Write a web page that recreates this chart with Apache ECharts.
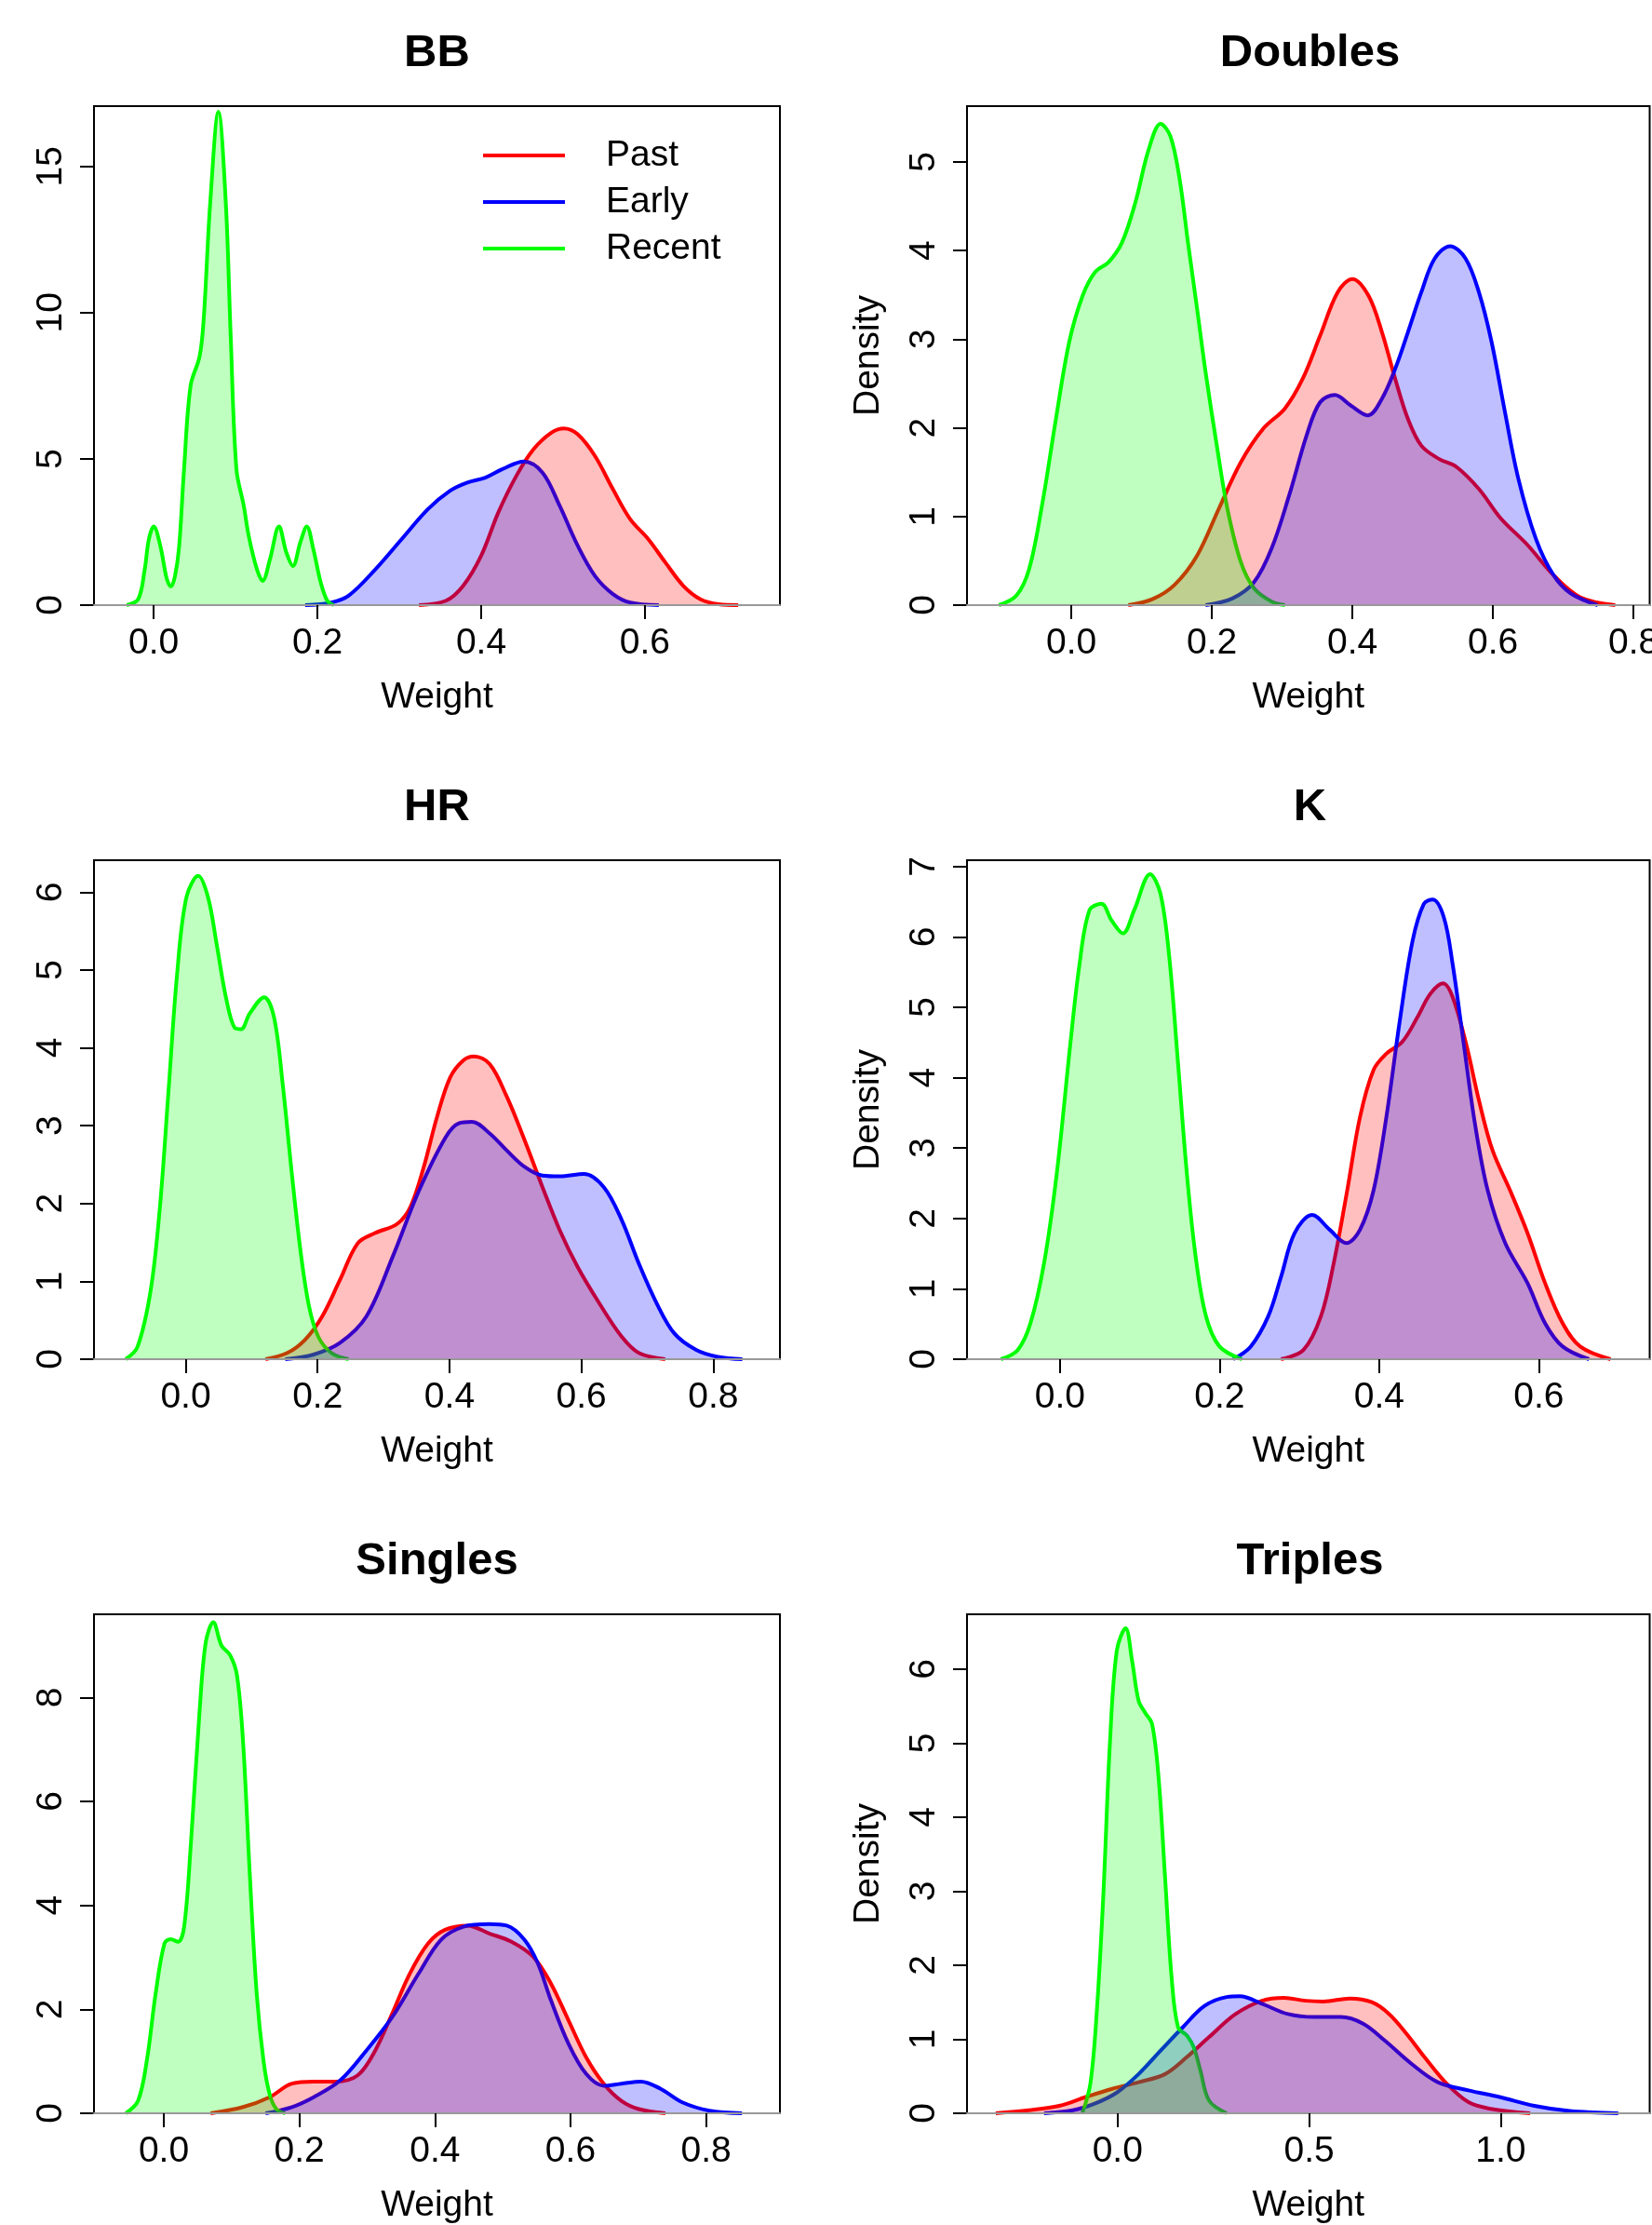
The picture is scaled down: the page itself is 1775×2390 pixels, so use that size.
<!DOCTYPE html>
<html>
<head>
<meta charset="utf-8">
<title>Weight densities</title>
<script src="https://cdn.jsdelivr.net/npm/echarts@6/dist/echarts.min.js"></script>
<style>
  html, body { margin: 0; padding: 0; background: #fff; }
  #main { width: 1775px; height: 2390px; }
</style>
</head>
<body>
<div id="main"></div>
<script>
const panelNames = ['BB', 'Doubles', 'HR', 'K', 'Singles', 'Triples'];
const seriesNames = ['Past', 'Early', 'Recent'];

// density curves, [weight, density]
const bbPast = [[0.324,0],[0.357,0.15],[0.378,0.66],[0.4,1.69],[0.421,3.17],[0.443,4.42],[0.464,5.33],[0.486,5.9],[0.501,6.04],[0.518,5.84],[0.539,5.1],[0.561,3.96],[0.582,2.94],[0.604,2.26],[0.625,1.46],[0.647,0.66],[0.668,0.2],[0.69,0.03],[0.714,0]];
const bbEarly = [[0.185,0],[0.217,0.09],[0.238,0.32],[0.271,1.23],[0.303,2.26],[0.335,3.28],[0.362,3.91],[0.383,4.19],[0.405,4.36],[0.426,4.65],[0.452,4.91],[0.475,4.53],[0.496,3.39],[0.518,2.03],[0.539,1.0],[0.561,0.38],[0.582,0.09],[0.617,0]];
const bbRecent = [[-0.033,0],[-0.019,0.2],[-0.011,1.23],[-0.006,2.25],[0.0,2.69],[0.008,2.03],[0.016,0.89],[0.021,0.64],[0.026,1.0],[0.031,2.0],[0.037,4.65],[0.045,7.5],[0.056,8.5],[0.061,9.77],[0.069,13.76],[0.079,16.87],[0.088,13.76],[0.094,9.2],[0.101,4.65],[0.11,3.39],[0.116,2.37],[0.126,1.23],[0.133,0.83],[0.142,1.57],[0.153,2.69],[0.162,1.8],[0.17,1.34],[0.179,2.14],[0.187,2.69],[0.195,1.91],[0.204,0.77],[0.212,0.15],[0.22,0]];

const doublesPast = [[0.081,0],[0.116,0.07],[0.147,0.23],[0.179,0.56],[0.21,1.09],[0.241,1.61],[0.273,1.99],[0.304,2.22],[0.329,2.55],[0.354,3.04],[0.379,3.53],[0.4,3.68],[0.423,3.49],[0.442,3.08],[0.461,2.55],[0.479,2.1],[0.498,1.8],[0.523,1.65],[0.548,1.56],[0.58,1.31],[0.611,0.98],[0.649,0.68],[0.686,0.34],[0.724,0.09],[0.774,0]];
const doublesEarly = [[0.191,0],[0.229,0.075],[0.26,0.26],[0.285,0.64],[0.31,1.24],[0.335,1.92],[0.354,2.29],[0.375,2.37],[0.398,2.25],[0.422,2.14],[0.442,2.33],[0.461,2.67],[0.479,3.08],[0.498,3.53],[0.517,3.91],[0.539,4.05],[0.561,3.91],[0.58,3.53],[0.598,2.97],[0.617,2.18],[0.636,1.43],[0.661,0.75],[0.686,0.34],[0.711,0.13],[0.749,0]];
const doublesRecent = [[-0.103,0],[-0.078,0.11],[-0.06,0.41],[-0.041,1.16],[-0.022,2.1],[-0.003,2.97],[0.016,3.49],[0.034,3.76],[0.053,3.87],[0.072,4.09],[0.091,4.54],[0.11,5.14],[0.127,5.43],[0.141,5.29],[0.154,4.81],[0.166,4.09],[0.179,3.34],[0.191,2.63],[0.207,1.8],[0.222,1.09],[0.241,0.49],[0.26,0.19],[0.285,0.04],[0.304,0]];

const hrPast = [[0.121,0],[0.154,0.08],[0.181,0.25],[0.207,0.55],[0.234,1.02],[0.261,1.49],[0.287,1.62],[0.321,1.74],[0.341,1.96],[0.361,2.47],[0.381,3.11],[0.401,3.62],[0.421,3.84],[0.437,3.89],[0.461,3.79],[0.487,3.37],[0.514,2.81],[0.541,2.21],[0.567,1.66],[0.594,1.19],[0.627,0.72],[0.661,0.29],[0.687,0.08],[0.727,0]];
const hrEarly = [[0.151,0],[0.194,0.06],[0.234,0.21],[0.274,0.55],[0.314,1.32],[0.354,2.17],[0.394,2.85],[0.414,3.03],[0.434,3.05],[0.461,2.9],[0.487,2.68],[0.514,2.47],[0.541,2.36],[0.567,2.35],[0.604,2.38],[0.634,2.21],[0.661,1.79],[0.687,1.23],[0.714,0.72],[0.741,0.33],[0.774,0.12],[0.807,0.03],[0.844,0]];
const hrRecent = [[-0.091,0],[-0.073,0.16],[-0.053,0.89],[-0.039,1.96],[-0.026,3.45],[-0.013,4.95],[0.001,5.93],[0.019,6.21],[0.034,5.93],[0.047,5.33],[0.061,4.65],[0.074,4.26],[0.084,4.24],[0.097,4.44],[0.119,4.65],[0.134,4.39],[0.147,3.54],[0.161,2.38],[0.174,1.4],[0.187,0.68],[0.201,0.29],[0.221,0.08],[0.247,0]];

const kPast = [[0.277,0],[0.305,0.13],[0.327,0.61],[0.343,1.36],[0.36,2.4],[0.376,3.44],[0.393,4.11],[0.409,4.34],[0.429,4.51],[0.448,4.86],[0.464,5.19],[0.48,5.34],[0.492,5.15],[0.509,4.48],[0.525,3.68],[0.542,2.97],[0.564,2.4],[0.586,1.79],[0.608,1.08],[0.63,0.51],[0.652,0.18],[0.69,0]];
const kEarly = [[0.217,0],[0.239,0.18],[0.261,0.61],[0.277,1.17],[0.294,1.79],[0.316,2.05],[0.338,1.84],[0.359,1.65],[0.376,1.84],[0.393,2.4],[0.409,3.44],[0.426,4.82],[0.442,5.95],[0.456,6.47],[0.467,6.53],[0.481,6.28],[0.492,5.62],[0.506,4.48],[0.52,3.35],[0.536,2.4],[0.558,1.65],[0.586,1.08],[0.608,0.51],[0.63,0.18],[0.663,0]];
const kRecent = [[-0.074,0],[-0.053,0.13],[-0.037,0.51],[-0.02,1.36],[-0.004,2.64],[0.013,4.48],[0.024,5.57],[0.037,6.38],[0.052,6.47],[0.065,6.23],[0.079,6.05],[0.093,6.38],[0.113,6.89],[0.126,6.61],[0.137,5.71],[0.148,4.2],[0.159,2.64],[0.17,1.46],[0.183,0.61],[0.2,0.18],[0.228,0]];

const singlesPast = [[0.069,0],[0.117,0.12],[0.156,0.31],[0.189,0.57],[0.221,0.61],[0.253,0.61],[0.286,0.73],[0.312,1.21],[0.337,1.92],[0.363,2.69],[0.39,3.27],[0.415,3.53],[0.448,3.61],[0.48,3.46],[0.513,3.3],[0.545,3.01],[0.571,2.5],[0.597,1.79],[0.623,1.08],[0.649,0.57],[0.675,0.24],[0.701,0.08],[0.74,0]];
const singlesEarly = [[0.15,0],[0.189,0.12],[0.221,0.31],[0.26,0.63],[0.299,1.21],[0.337,1.85],[0.376,2.69],[0.409,3.34],[0.442,3.59],[0.48,3.64],[0.506,3.61],[0.532,3.34],[0.552,2.88],[0.571,2.18],[0.597,1.34],[0.623,0.76],[0.649,0.53],[0.675,0.57],[0.704,0.61],[0.733,0.47],[0.765,0.21],[0.805,0.05],[0.853,0]];
const singlesRecent = [[-0.056,0],[-0.038,0.24],[-0.025,1.02],[-0.012,2.31],[0.001,3.27],[0.01,3.35],[0.021,3.3],[0.03,3.59],[0.04,5.2],[0.053,7.78],[0.062,9.07],[0.073,9.45],[0.085,9.0],[0.098,8.81],[0.108,8.42],[0.117,7.13],[0.127,4.56],[0.137,2.31],[0.147,1.02],[0.156,0.37],[0.166,0.08],[0.179,0]];

const triplesPast = [[-0.318,0],[-0.232,0.04],[-0.152,0.1],[-0.083,0.22],[-0.014,0.33],[0.055,0.42],[0.124,0.53],[0.181,0.76],[0.239,1.03],[0.308,1.34],[0.377,1.52],[0.434,1.56],[0.491,1.52],[0.537,1.51],[0.606,1.55],[0.664,1.5],[0.709,1.34],[0.755,1.07],[0.801,0.76],[0.859,0.4],[0.916,0.15],[0.974,0.06],[1.077,0]];
const triplesEarly = [[-0.192,0],[-0.117,0.04],[-0.06,0.13],[-0.002,0.28],[0.055,0.53],[0.113,0.85],[0.17,1.16],[0.227,1.45],[0.285,1.57],[0.319,1.58],[0.377,1.48],[0.445,1.34],[0.514,1.3],[0.583,1.3],[0.641,1.21],[0.698,0.98],[0.767,0.67],[0.836,0.42],[0.916,0.31],[0.997,0.22],[1.088,0.1],[1.18,0.03],[1.307,0]];
const triplesRecent = [[-0.092,0],[-0.071,0.4],[-0.054,1.39],[-0.037,2.96],[-0.02,4.99],[-0.002,6.25],[0.021,6.55],[0.038,6.11],[0.055,5.57],[0.072,5.41],[0.09,5.26],[0.107,4.54],[0.124,3.19],[0.141,1.84],[0.158,1.16],[0.181,1.05],[0.199,0.89],[0.216,0.58],[0.239,0.17],[0.285,0]];

// axis ranges and tick labels
const xRanges = [[-0.073, 0.765], [-0.1485, 0.823], [-0.139, 0.901], [-0.1165, 0.739], [-0.103, 0.909], [-0.393, 1.389]];
const yMaxes = [17.06, 5.63, 6.41, 7.09, 9.6, 6.74];
const xTickValues = [[0, 0.2, 0.4, 0.6], [0, 0.2, 0.4, 0.6, 0.8], [0, 0.2, 0.4, 0.6, 0.8], [0, 0.2, 0.4, 0.6], [0, 0.2, 0.4, 0.6, 0.8], [0, 0.5, 1.0]];
const yTickValues = [[0, 5, 10, 15], [0, 1, 2, 3, 4, 5], [0, 1, 2, 3, 4, 5, 6], [0, 1, 2, 3, 4, 5, 6, 7], [0, 2, 4, 6, 8], [0, 1, 2, 3, 4, 5, 6]];

const curves = [
  [bbPast, bbEarly, bbRecent],
  [doublesPast, doublesEarly, doublesRecent],
  [hrPast, hrEarly, hrRecent],
  [kPast, kEarly, kRecent],
  [singlesPast, singlesEarly, singlesRecent],
  [triplesPast, triplesEarly, triplesRecent]
];

const lineColors = ['#ff0000', '#0000ff', '#00ff00'];
const fillColors = ['rgba(255,0,0,0.25)', 'rgba(0,0,255,0.25)', 'rgba(0,255,0,0.25)'];
const font = '"Liberation Sans", Arial, Helvetica, sans-serif';

const colLeft = [101, 1039];
const colWidth = [737, 733.5];
const rowTop = [114, 924, 1734];
const boxHeight = 536;

let grids = [], xAxes = [], yAxes = [], titles = [], series = [];

for (let i = 0; i < 6; i++) {
  const col = i % 2, row = Math.floor(i / 2);
  grids.push({
    left: colLeft[col], top: rowTop[row], width: colWidth[col], height: boxHeight,
    show: true, borderColor: '#000', borderWidth: 2, backgroundColor: 'transparent',
    outerBoundsMode: 'none'
  });
  titles.push({
    text: panelNames[i],
    left: 101 + 737 / 2 + col * 938,
    top: rowTop[row] - 81,
    textAlign: 'center',
    padding: 0,
    textStyle: {fontSize: 49, fontWeight: 'bold', color: '#000', fontFamily: font}
  });
  xAxes.push({
    gridIndex: i, type: 'value', min: xRanges[i][0], max: xRanges[i][1],
    name: 'Weight', nameLocation: 'middle', nameGap: 80,
    nameTextStyle: {fontSize: 39, color: '#000', fontFamily: font},
    axisLine: {show: true, onZero: false, lineStyle: {color: '#999', width: 2}},
    axisTick: {show: true, length: 15, customValues: xTickValues[i], lineStyle: {color: '#000', width: 2}},
    axisLabel: {
      customValues: xTickValues[i], formatter: v => v.toFixed(1),
      fontSize: 39, color: '#000', margin: 22, fontFamily: font
    },
    splitLine: {show: false},
    z: 5
  });
  yAxes.push({
    gridIndex: i, type: 'value', min: 0, max: yMaxes[i],
    name: col === 1 ? 'Density' : '', nameLocation: 'middle', nameGap: 86,
    nameTextStyle: {fontSize: 39, color: '#000', fontFamily: font},
    axisLine: {show: false, onZero: false},
    axisTick: {show: true, length: 15, customValues: yTickValues[i], lineStyle: {color: '#000', width: 2}},
    axisLabel: {
      customValues: yTickValues[i], rotate: 90,
      fontSize: 39, color: '#000', margin: 26, fontFamily: font
    },
    splitLine: {show: false}
  });

  // outlines first, translucent fills drawn over them (as the original does)
  for (let k = 0; k < 3; k++) {
    series.push({
      type: 'line', name: seriesNames[k], xAxisIndex: i, yAxisIndex: i,
      data: curves[i][k], smooth: 0.35, showSymbol: false, symbol: 'none',
      color: lineColors[k], lineStyle: {color: lineColors[k], width: 4},
      z: 2, silent: true
    });
  }
  for (let k = 0; k < 3; k++) {
    series.push({
      type: 'line', name: seriesNames[k], xAxisIndex: i, yAxisIndex: i,
      data: curves[i][k], smooth: 0.35, showSymbol: false, symbol: 'none',
      color: lineColors[k], lineStyle: {width: 0, opacity: 0},
      areaStyle: {color: fillColors[k], opacity: 1},
      z: 3, silent: true
    });
  }
}

const chart = echarts.init(document.getElementById('main'), null, {renderer: 'canvas'});
chart.setOption({
  animation: false,
  backgroundColor: '#fff',
  title: titles,
  legend: {
    data: seriesNames, orient: 'vertical', left: 519, top: 147, padding: 0,
    icon: 'rect', itemWidth: 88, itemHeight: 4, itemGap: 10,
    selectedMode: false,
    textStyle: {fontSize: 39, color: '#000', fontFamily: font, lineHeight: 40, padding: [0, 0, 0, 39]}
  },
  grid: grids,
  xAxis: xAxes,
  yAxis: yAxes,
  series: series
});
</script>
</body>
</html>
